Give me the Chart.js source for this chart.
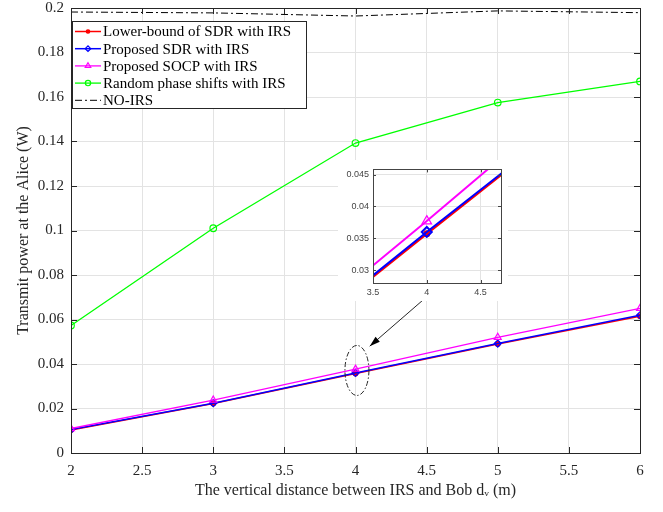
<!DOCTYPE html>
<html>
<head>
<meta charset="utf-8">
<script src="https://cdn.jsdelivr.net/npm/chart.js@4"></script>
<style>
  body { margin: 0; background: #fff; }
  #wrap { position: relative; width: 663px; height: 512px; overflow: hidden; }
  #mainChart { position: absolute; left: 0; top: -8px; }
  #insetChart { position: absolute; left: 338px; top: 160px; }
</style>
</head>
<body>
<div id="wrap">
  <canvas id="mainChart" width="663" height="520"></canvas>
  <canvas id="insetChart" width="170" height="141"></canvas>
</div>
<script>
// distance d_v (m)
const distances = [2, 3, 4, 5, 6];
const lowerBoundSDR = [0.0103, 0.0222, 0.0357, 0.0490, 0.0615];
const proposedSDR = [0.0105, 0.0224, 0.0360, 0.0492, 0.0619];
const proposedSOCP = [0.0110, 0.0238, 0.0377, 0.0520, 0.0650];
const randomPhase = [0.0573, 0.1010, 0.1393, 0.1575, 0.1670];
const noIRS = [0.1982, 0.1978, 0.1964, 0.1987, 0.1979];

const yTicks = [0, 0.02, 0.04, 0.06, 0.08, 0.1, 0.12, 0.14, 0.16, 0.18, 0.2];
const xTicks = [2, 2.5, 3, 3.5, 4, 4.5, 5, 5.5, 6];

const serif = "'Liberation Serif', 'Times New Roman', serif";
const sans = "'Liberation Sans', Arial, sans-serif";
const fmt = v => String(+Number(v).toFixed(4));

function pts(ys) {
  return distances.map((x, i) => ({ x: x, y: ys[i] }));
}

function makeDatasets() {
  return [
    {
      label: "Lower-bound of SDR with IRS",
      data: pts(lowerBoundSDR),
      borderColor: "#ff0000", backgroundColor: "#ff0000",
      borderWidth: 1.5, pointStyle: "circle", pointRadius: 2.2,
      order: 3
    },
    {
      label: "Proposed SDR with IRS",
      data: pts(proposedSDR),
      borderColor: "#0000ff", backgroundColor: "rgba(0,0,0,0)",
      borderWidth: 1.5, pointStyle: "rectRot", pointRadius: 3.5,
      pointBorderWidth: 1.2, order: 2
    },
    {
      label: "Proposed SOCP with IRS",
      data: pts(proposedSOCP),
      borderColor: "#ff00ff", backgroundColor: "rgba(0,0,0,0)",
      borderWidth: 1.3, pointStyle: "triangle", pointRadius: 4,
      pointBorderWidth: 1.2, order: 1
    },
    {
      label: "Random phase shifts with IRS",
      data: pts(randomPhase),
      borderColor: "#00ff00", backgroundColor: "rgba(0,0,0,0)",
      borderWidth: 1.3, pointStyle: "circle", pointRadius: 3.3,
      pointBorderWidth: 1.2, order: 0
    },
    {
      label: "NO-IRS",
      data: pts(noIRS),
      borderColor: "#000000", backgroundColor: "#000000",
      borderWidth: 1, borderDash: [7, 3, 2, 3], pointRadius: 0, order: 0
    }
  ];
}

// box, inner ticks, legend, ellipse + arrow
const decorPlugin = {
  id: "decor",
  afterDatasetsDraw(chart) {
    const ctx = chart.ctx;
    const a = chart.chartArea;
    const xs = chart.scales.x, ys = chart.scales.y;
    ctx.save();
    // inner tick marks
    ctx.strokeStyle = "#262626";
    ctx.lineWidth = 1;
    ctx.beginPath();
    xTicks.forEach(v => {
      const px = Math.round(xs.getPixelForValue(v)) + 0.5;
      ctx.moveTo(px, a.bottom); ctx.lineTo(px, a.bottom - 6);
      ctx.moveTo(px, a.top); ctx.lineTo(px, a.top + 6);
    });
    yTicks.forEach(v => {
      const py = Math.round(ys.getPixelForValue(v)) + 0.5;
      ctx.moveTo(a.left, py); ctx.lineTo(a.left + 6, py);
      ctx.moveTo(a.right, py); ctx.lineTo(a.right - 6, py);
    });
    ctx.stroke();
    // box
    ctx.strokeRect(Math.round(a.left) + 0.5, Math.round(a.top) + 0.5,
      Math.round(a.right - a.left), Math.round(a.bottom - a.top));

    // dash-dot ellipse around d_v = 4
    const cx = xs.getPixelForValue(4.01), cy = ys.getPixelForValue(0.0371);
    ctx.setLineDash([5, 2, 1.5, 2]);
    ctx.beginPath();
    ctx.ellipse(cx, cy, 12, 25, 0, 0, Math.PI * 2);
    ctx.stroke();
    ctx.setLineDash([]);
    // arrow towards ellipse
    const x1 = xs.getPixelForValue(4.47), y1 = ys.getPixelForValue(0.0685);
    const x2 = xs.getPixelForValue(4.10), y2 = ys.getPixelForValue(0.0480);
    ctx.beginPath();
    ctx.moveTo(x1, y1); ctx.lineTo(x2, y2);
    ctx.stroke();
    const ang = Math.atan2(y2 - y1, x2 - x1);
    ctx.fillStyle = "#000";
    ctx.beginPath();
    ctx.moveTo(x2, y2);
    ctx.lineTo(x2 - 11 * Math.cos(ang - 0.3), y2 - 11 * Math.sin(ang - 0.3));
    ctx.lineTo(x2 - 11 * Math.cos(ang + 0.3), y2 - 11 * Math.sin(ang + 0.3));
    ctx.closePath();
    ctx.fill();

    // legend
    const lx = a.left + 1, ly = a.top + 13, lw = 234, lh = 87;
    ctx.fillStyle = "#fff";
    ctx.fillRect(lx, ly, lw, lh);
    ctx.strokeStyle = "#262626";
    ctx.strokeRect(Math.round(lx) + 0.5, Math.round(ly) + 0.5, lw, lh);
    ctx.font = "15px " + serif;
    ctx.textBaseline = "middle";
    chart.data.datasets.forEach((ds, i) => {
      const y = ly + 10.5 + i * 17.2;
      ctx.strokeStyle = ds.borderColor;
      ctx.lineWidth = ds.borderWidth;
      ctx.setLineDash(ds.borderDash || []);
      ctx.beginPath();
      ctx.moveTo(lx + 3, y); ctx.lineTo(lx + 29, y);
      ctx.stroke();
      ctx.setLineDash([]);
      if (ds.pointRadius > 0) {
        ctx.fillStyle = ds.backgroundColor;
        ctx.strokeStyle = ds.borderColor;
        ctx.lineWidth = 1.2;
        Chart.helpers.drawPoint(ctx, {
          pointStyle: ds.pointStyle, radius: ds.pointRadius * 0.8,
          borderWidth: 1.2, rotation: 0
        }, lx + 16, y);
      }
      ctx.fillStyle = "#000";
      ctx.fillText(ds.label, lx + 31, y + 1);
    });
    ctx.restore();
  }
};

const mainChart = new Chart(document.getElementById("mainChart").getContext("2d"), {
  type: "line",
  data: { datasets: makeDatasets() },
  options: {
    responsive: false,
    animation: false,
    layout: { padding: { top: 0, right: 23, left: 0, bottom: 12 } },
    plugins: { legend: { display: false }, tooltip: { enabled: false } },
    scales: {
      x: {
        type: "linear", min: 2, max: 6,
        afterBuildTicks: s => { s.ticks = xTicks.map(v => ({ value: v })); },
        afterFit: s => { s.height = 47; },
        ticks: { font: { family: serif, size: 15 }, color: "#262626", padding: 9, callback: fmt },
        grid: { color: "#e3e3e3", drawTicks: false },
        border: { color: "#262626" },
        title: {
          display: true, text: "The vertical distance between IRS and Bob d\u1d65 (m)",
          font: { family: serif, size: 16 }, color: "#262626", padding: { top: 0, bottom: 0 }
        }
      },
      y: {
        type: "linear", min: 0, max: 0.2,
        afterBuildTicks: s => { s.ticks = yTicks.map(v => ({ value: v })); },
        afterFit: s => { s.width = 71; },
        ticks: { font: { family: serif, size: 15 }, color: "#262626", padding: 7, callback: fmt },
        grid: { color: "#e3e3e3", drawTicks: false },
        border: { color: "#262626" },
        title: {
          display: true, text: "Transmit power at the Alice (W)",
          font: { family: serif, size: 16 }, color: "#262626", padding: { top: 14, bottom: 0 }
        }
      }
    }
  },
  plugins: [decorPlugin]
});

// zoomed inset around d_v = 4
const insetX = [3.5, 4, 4.5];
const insetY = [0.03, 0.035, 0.04, 0.045];
const insetDatasets = makeDatasets().slice(0, 3);
insetDatasets.forEach(ds => { ds.borderWidth = 2; });
insetDatasets[0].pointRadius = 2.5;
insetDatasets[1].pointRadius = 5;
insetDatasets[1].pointBorderWidth = 2;
insetDatasets[2].pointRadius = 5.5;

const insetBox = {
  id: "insetBox",
  beforeDraw(chart) {
    const ctx = chart.ctx;
    ctx.save();
    ctx.fillStyle = "#fff";
    ctx.fillRect(0, 0, chart.width, chart.height);
    ctx.restore();
  },
  afterDatasetsDraw(chart) {
    const ctx = chart.ctx, a = chart.chartArea;
    ctx.save();
    ctx.strokeStyle = "#444";
    ctx.lineWidth = 1;
    ctx.beginPath();
    insetX.forEach(v => {
      const px = Math.round(chart.scales.x.getPixelForValue(v)) + 0.5;
      ctx.moveTo(px, a.bottom); ctx.lineTo(px, a.bottom - 3);
      ctx.moveTo(px, a.top); ctx.lineTo(px, a.top + 3);
    });
    insetY.forEach(v => {
      const py = Math.round(chart.scales.y.getPixelForValue(v)) + 0.5;
      ctx.moveTo(a.left, py); ctx.lineTo(a.left + 3, py);
      ctx.moveTo(a.right, py); ctx.lineTo(a.right - 3, py);
    });
    ctx.stroke();
    ctx.strokeRect(Math.round(a.left) + 0.5, Math.round(a.top) + 0.5,
      Math.round(a.right - a.left), Math.round(a.bottom - a.top));
    ctx.restore();
  }
};

const insetChart = new Chart(document.getElementById("insetChart").getContext("2d"), {
  type: "line",
  data: { datasets: insetDatasets },
  options: {
    responsive: false,
    animation: false,
    layout: { padding: { top: 0, right: 6, left: 0, bottom: 0 } },
    plugins: { legend: { display: false }, tooltip: { enabled: false } },
    scales: {
      x: {
        type: "linear", min: 3.5, max: 4.69,
        afterBuildTicks: s => { s.ticks = insetX.map(v => ({ value: v })); },
        afterFit: s => { s.height = 18; },
        ticks: { font: { family: sans, size: 9 }, color: "#444", padding: 4, callback: fmt },
        grid: { color: "#e3e3e3", drawTicks: false },
        border: { color: "#444" }
      },
      y: {
        type: "linear", min: 0.028, max: 0.0458,
        afterBuildTicks: s => { s.ticks = insetY.map(v => ({ value: v })); },
        afterFit: s => { s.width = 35; },
        ticks: { font: { family: sans, size: 9 }, color: "#444", padding: 4, callback: fmt },
        grid: { color: "#e3e3e3", drawTicks: false },
        border: { color: "#444" }
      }
    }
  },
  plugins: [insetBox]
});
</script>
</body>
</html>
